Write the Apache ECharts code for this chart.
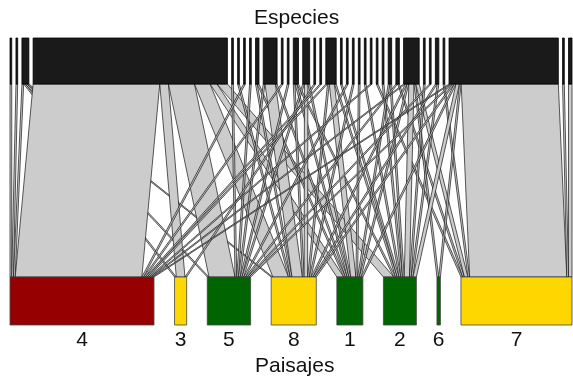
<!DOCTYPE html>
<html><head><meta charset="utf-8">
<script src="https://cdn.jsdelivr.net/npm/echarts@6/dist/echarts.min.js"></script>
<style>html,body{margin:0;padding:0;background:#fff}#c{width:573px;height:379px}</style>
</head><body><div id="c"></div>
<script>
// Upper level: species (35), lower level: landscapes (8, in drawing order)
const species = ['s01','s02','s03','s04','s05','s06','s07','s08','s09','s10','s11','s12','s13','s14','s15','s16','s17','s18','s19','s20','s21','s22','s23','s24','s25','s26','s27','s28','s29','s30','s31','s32','s33','s34','s35'];
const landscapes = ['4','3','5','8','1','2','6','7'];
const landscapeColors = ['#960000','#FFD700','#006400','#FFD700','#006400','#006400','#006400','#FFD700'];

// Interaction counts per landscape, one value per species (s01..s35)
const land4 = [1,1,1,73,0,0,1,0,0,0, 1,0,0,0,0,1,1,0,0,0, 0,0,1,0,0,0,0,1,0,0, 0,0,1,0,0];
const land3 = [0,0,1,5,0,0,0,0,0,0, 0,0,0,0,1,0,0,0,0,0, 0,0,0,0,0,0,0,0,0,0, 0,0,0,0,0];
const land5 = [0,0,1,15,1,0,0,1,0,1, 0,1,0,1,0,0,0,0,1,0, 0,0,0,0,0,0,1,0,0,1, 0,0,1,0,0];
const land8 = [0,0,1,9,0,1,0,0,1,6, 0,0,1,2,0,0,1,0,0,1, 0,0,0,0,0,0,0,1,0,0, 1,0,1,0,0];
const land1 = [0,0,0,4,0,0,0,0,1,1, 0,0,1,1,0,0,3,0,0,0, 1,0,0,0,0,1,0,1,0,0, 0,0,1,0,0];
const land2 = [0,0,0,6,0,0,0,0,0,0, 0,0,1,0,0,0,1,1,0,0, 0,1,0,0,1,1,0,3,1,0, 1,0,2,0,0];
const land6 = [0,0,0,0,0,0,0,0,0,0, 0,0,0,0,0,0,0,0,0,0, 0,0,0,0,0,0,0,1,0,0, 0,0,1,0,0];
const land7 = [0,0,0,0,0,0,0,0,0,0, 0,0,0,0,0,0,0,0,0,0, 0,0,0,1,0,0,1,2,0,0, 0,1,56,1,2];
const columns = [land4, land3, land5, land8, land1, land2, land6, land7];

// ---- layout (plotweb style) ----
const nS = species.length, nL = landscapes.length;
const rowSum = species.map((_, i) => columns.reduce((a, c) => a + c[i], 0));
const colSum = columns.map(c => c.reduce((a, b) => a + b, 0));
const total = rowSum.reduce((a, b) => a + b, 0);
const boxShare = 0.744;
const extent = total / boxShare;
const gapTop = (extent - total) / (nS - 1);
const gapBot = (extent - total) / (nL - 1);
const topX = []; let acc = 0;
rowSum.forEach((w, i) => { topX.push(acc); acc += w + gapTop; });
const botX = []; acc = 0;
colSum.forEach((w, j) => { botX.push(acc); acc += w + gapBot; });
const topOff = [], botOff = [];
for (let i = 0; i < nS; i++) { topOff.push([]); let o = 0; for (let j = 0; j < nL; j++) { topOff[i].push(o); o += columns[j][i]; } }
for (let j = 0; j < nL; j++) { botOff.push([]); let o = 0; for (let i = 0; i < nS; i++) { botOff[j].push(o); o += columns[j][i]; } }

const Y_TOP0 = 0, Y_TOP1 = 46, Y_BOT0 = 239, Y_BOT1 = 287;

const links = [];
for (let i = 0; i < nS; i++) for (let j = 0; j < nL; j++) if (columns[j][i] > 0) links.push([i, j, columns[j][i]]);

const chart = echarts.init(document.getElementById('c'), null, {renderer: 'canvas'});
chart.setOption({
  animation: false,
  backgroundColor: '#fff',
  grid: {left: 10, right: 1, top: 38, bottom: 54},
  xAxis: {type: 'value', min: 0, max: extent, show: false},
  yAxis: {type: 'value', min: 0, max: Y_BOT1, inverse: true, show: false},
  graphic: [
    {type: 'text', left: 254, top: 8, style: {text: 'Especies', font: '21px "Liberation Sans", Arial, sans-serif', fill: '#111'}},
    {type: 'text', left: 255, top: 356, style: {text: 'Paisajes', font: '21px "Liberation Sans", Arial, sans-serif', fill: '#111'}}
  ],
  series: [
    {
      type: 'custom', data: links, clip: false,
      renderItem: (params, api) => {
        const i = api.value(0), j = api.value(1), w = api.value(2);
        const xt = topX[i] + topOff[i][j], xb = botX[j] + botOff[j][i];
        const p1 = api.coord([xt, Y_TOP1]), p2 = api.coord([xt + w, Y_TOP1]);
        const p3 = api.coord([xb + w, Y_BOT0]), p4 = api.coord([xb, Y_BOT0]);
        return {type: 'polygon', shape: {points: [p1, p2, p3, p4]},
          style: {fill: '#cccccc', stroke: 'rgba(0,0,0,0.8)', lineWidth: 0.8}};
      }
    },
    {
      type: 'custom', data: species.map((s, i) => [i, rowSum[i]]), clip: false,
      renderItem: (params, api) => {
        const i = api.value(0), w = api.value(1);
        const a = api.coord([topX[i], Y_TOP0]), b = api.coord([topX[i] + w, Y_TOP1]);
        return {type: 'rect', shape: {x: a[0], y: a[1], width: b[0] - a[0], height: b[1] - a[1]},
          style: {fill: '#1a1a1a', stroke: '#000', lineWidth: 0.8}};
      }
    },
    {
      type: 'custom', data: landscapes.map((l, j) => [j, colSum[j]]), clip: false,
      renderItem: (params, api) => {
        const j = api.value(0), w = api.value(1);
        const a = api.coord([botX[j], Y_BOT0]), b = api.coord([botX[j] + w, Y_BOT1]);
        return {type: 'group', children: [
          {type: 'rect', shape: {x: a[0], y: a[1], width: b[0] - a[0], height: b[1] - a[1]},
            style: {fill: landscapeColors[j], stroke: '#444', lineWidth: 0.8}},
          {type: 'text', x: (a[0] + b[0]) / 2, y: b[1] + 15, style: {text: landscapes[j], textAlign: 'center', textVerticalAlign: 'middle',
            font: '21px "Liberation Sans", Arial, sans-serif', fill: '#111'}}
        ]};
      }
    }
  ]
});
</script></body></html>
